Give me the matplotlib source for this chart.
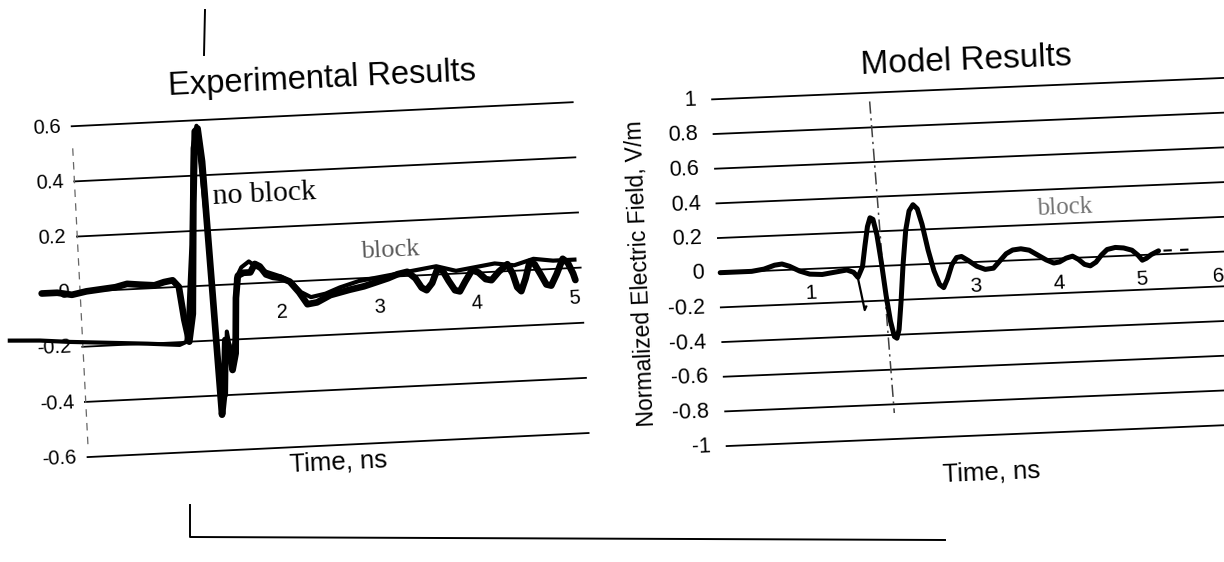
import matplotlib
matplotlib.use("Agg")
import matplotlib.pyplot as plt
from matplotlib.transforms import Affine2D
from matplotlib.lines import Line2D

# ---- data (values in the chart's own frame) ----
exp_t_noblock = [-0.46, -0.3, -0.15, 0.0, 0.15, 0.3, 0.42, 0.55, 0.7, 0.8, 0.89, 0.95, 0.99, 1.03,
                 1.08, 1.14, 1.19, 1.22, 1.25, 1.29, 1.33, 1.36, 1.40, 1.43, 1.46, 1.50, 1.53, 1.56,
                 1.62, 1.69, 1.74, 1.79, 1.85, 1.92, 2.0, 2.09, 2.18, 2.26, 2.36, 2.5, 2.7, 2.85,
                 2.98, 3.1, 3.2, 3.30, 3.38, 3.44, 3.49, 3.55, 3.61, 3.66, 3.72, 3.78, 3.83, 3.89,
                 3.965, 4.03, 4.1, 4.16, 4.24, 4.33, 4.38, 4.42, 4.46, 4.51, 4.56, 4.61, 4.67, 4.72,
                 4.77, 4.83, 4.90, 4.95, 5.0, 5.02]
exp_v_noblock = [0.0, 0.0, -0.01, 0.0, 0.005, 0.01, 0.02, 0.015, 0.01, 0.02, 0.025, 0.0, -0.12, -0.2,
                 -0.1, 0.3, 0.56, 0.57, 0.45, 0.0, -0.47, -0.4, -0.2, -0.22, -0.31, -0.25, -0.05, 0.03,
                 0.04, 0.04, 0.07, 0.06, 0.03, 0.02, 0.015, 0.0, -0.04, -0.085, -0.08, -0.056, -0.04, -0.03,
                 -0.017, -0.005, 0.008, 0.015, -0.01, -0.045, -0.055, -0.03, 0.02, 0.015, -0.025, -0.06,
                 -0.065, -0.03, 0.01, 0.0, -0.025, -0.03, 0.0, 0.025, -0.01, -0.06, -0.075, -0.03, 0.03,
                 0.02, -0.02, -0.055, -0.06, -0.02, 0.035, 0.02, -0.02, -0.044]

exp_t_block = [-0.81, -0.5, -0.2, 0.2, 0.6, 0.93, 1.0, 1.03, 1.06, 1.1, 1.16, 1.21, 1.27, 1.33, 1.38,
               1.42, 1.46, 1.5, 1.54, 1.6, 1.68, 1.75, 1.85, 2.0, 2.1, 2.2, 2.3, 2.45, 2.6, 2.8, 3.0,
               3.2, 3.4, 3.6, 3.8, 4.0, 4.2, 4.4, 4.6, 4.8, 5.02]
exp_v_block = [-0.165, -0.17, -0.18, -0.19, -0.2, -0.21, -0.2, -0.12, 0.0, 0.15, 0.5, 0.58, 0.2, -0.38,
               -0.4, -0.17, -0.27, -0.2, 0.02, 0.06, 0.08, 0.06, 0.04, 0.02, 0.0, -0.04, -0.06, -0.05,
               -0.03, -0.01, 0.0, 0.01, 0.02, 0.03, 0.01, 0.02, 0.03, 0.02, 0.04, 0.03, 0.03]

mod_t = [-0.08, 0.3, 0.45, 0.58, 0.67, 0.76, 0.88, 1.0, 1.15, 1.3, 1.45, 1.53, 1.58, 1.64, 1.68,
         1.72, 1.755, 1.79, 1.83, 1.87, 1.91, 1.95, 1.99, 2.02, 2.05, 2.09, 2.13, 2.18, 2.23, 2.28,
         2.33, 2.38, 2.44, 2.5, 2.56, 2.61, 2.66, 2.72, 2.78, 2.84, 2.92, 3.02, 3.12, 3.22, 3.3,
         3.38, 3.46, 3.56, 3.66, 3.76, 3.86, 3.95, 4.02, 4.1, 4.18, 4.25, 4.32, 4.39, 4.46, 4.53,
         4.6, 4.7, 4.8, 4.9, 4.97, 5.02, 5.07, 5.13, 5.22]
mod_v = [0.0, 0.0, 0.01, 0.03, 0.035, 0.02, -0.01, -0.03, -0.035, -0.025, -0.015, -0.03, -0.06, 0.0,
         0.12, 0.23, 0.28, 0.27, 0.18, 0.02, -0.17, -0.32, -0.41, -0.42, -0.37, -0.2, 0.0, 0.2, 0.31,
         0.345, 0.32, 0.23, 0.08, -0.04, -0.12, -0.14, -0.09, -0.01, 0.03, 0.035, 0.01, -0.025, -0.045,
         -0.04, 0.0, 0.04, 0.06, 0.065, 0.055, 0.025, -0.005, -0.025, -0.02, 0.0, 0.01, -0.01, -0.04,
         -0.05, -0.03, 0.01, 0.04, 0.05, 0.045, 0.03, 0.0, -0.03, -0.02, 0.0, 0.02]
mod_t_dip = [1.5, 1.57, 1.61, 1.645, 1.665]
mod_v_dip = [-0.02, -0.04, -0.15, -0.25, -0.23]
mod_t_tail = [5.28, 5.6]
mod_v_tail = [0.02, 0.02]
mod_t_marker = [1.81, 1.95]
mod_v_marker = [0.95, -0.85]

exp_yticks = [0.6, 0.4, 0.2, 0, -0.2, -0.4, -0.6]
exp_ytick_labels = ["0.6", "0.4", "0.2", "0", "-0.2", "-0.4", "-0.6"]
exp_xticks = [2, 3, 4, 5]
mod_yticks = [1, 0.8, 0.6, 0.4, 0.2, 0, -0.2, -0.4, -0.6, -0.8, -1]
mod_ytick_labels = ["1", "0.8", "0.6", "0.4", "0.2", "0", "-0.2", "-0.4", "-0.6", "-0.8", "-1"]
mod_xticks = [1, 3, 4, 5, 6]
mod_xtick_pos = [1, 3, 4, 5, 5.93]   # the "6" sits at the scan's right edge

W, H = 1224, 562
SANS = "Liberation Sans"
SERIF = "Liberation Serif"

fig = plt.figure(figsize=(W / 100, H / 100), dpi=100)


def make_axes(cpx, cpy, x0, xlim, ylim, sx, sy, tilt):
    # (x0, 0) in data sits at image pixel (cpx, cpy); the scan is tilted by `tilt` degrees
    left = cpx - (x0 - xlim[0]) * sx
    bottom = (H - cpy) - (0 - ylim[0]) * sy
    ax = fig.add_axes([left / W, bottom / H, (xlim[1] - xlim[0]) * sx / W,
                       (ylim[1] - ylim[0]) * sy / H])
    ax.set_xlim(xlim)
    ax.set_ylim(ylim)
    ax.axis("off")
    tr = ax.transData + Affine2D().rotate_deg_around(cpx, H - cpy, tilt)
    return ax, tr


# ---------------- left: experimental ----------------
tilt_l = 2.75
ax1, tr1 = make_axes(281, 282, 2, (-0.85, 5.2), (-0.7, 0.7), 97.4, 276, tilt_l)
for y in exp_yticks:
    ax1.plot([-0.07, 5.08], [y, y], color="black", lw=1.3, transform=tr1, clip_on=False)
for y, lab in zip(exp_yticks, exp_ytick_labels):
    ax1.text(-0.18, y, lab, ha="right", va="center", fontsize=14.5, family=SANS,
             transform=tr1, rotation=tilt_l, rotation_mode="anchor")
for x in exp_xticks:
    ax1.text(x, -0.11, str(x), ha="center", va="center", fontsize=14.5, family=SANS,
             transform=tr1, rotation=tilt_l, rotation_mode="anchor")
ax1.plot([-0.07, -0.06], [0.52, -0.56], color="0.4", lw=0.9, ls=(0, (6, 5)),
         transform=tr1, clip_on=False)
ax1.plot(exp_t_block, exp_v_block, color="black", lw=3.0, solid_joinstyle="round",
         transform=tr1, clip_on=False)
ax1.plot(exp_t_noblock, exp_v_noblock, color="black", lw=4.8, solid_joinstyle="round",
         solid_capstyle="round", transform=tr1, clip_on=False)
ax1.text(1.345, 0.32, "no block", ha="left", va="center", fontsize=21.5, family=SERIF,
         transform=tr1, rotation=tilt_l, rotation_mode="anchor")
ax1.text(3.13, 0.095, "block", ha="center", va="center", fontsize=19, family=SERIF,
         color="0.35", transform=tr1, rotation=tilt_l, rotation_mode="anchor")

# ---------------- right: model ----------------
tilt_r = 2.4
ax2, tr2 = make_axes(975, 262, 3, (-0.4, 6.4), (-1.2, 1.2), 82.8, 173.5, tilt_r)
for y in mod_yticks:
    ax2.plot([-0.09, 6.5], [y, y], color="black", lw=1.3, transform=tr2, clip_on=False)
for y, lab in zip(mod_yticks, mod_ytick_labels):
    ax2.text(-0.28, y, lab, ha="right", va="center", fontsize=15.5, family=SANS,
             transform=tr2, rotation=tilt_r, rotation_mode="anchor")
for x, lab in zip(mod_xtick_pos, mod_xticks):
    ax2.text(x, -0.14, str(lab), ha="center", va="center", fontsize=15, family=SANS,
             transform=tr2, rotation=tilt_r, rotation_mode="anchor")
ax2.plot(mod_t_marker, mod_v_marker, color="0.25", lw=1.1, ls=(0, (8, 3, 1.5, 3)),
         transform=tr2, clip_on=False)
ax2.plot(mod_t_dip, mod_v_dip, color="black", lw=1.6, transform=tr2, clip_on=False)
ax2.plot(mod_t, mod_v, color="black", lw=3.6, solid_joinstyle="round",
         solid_capstyle="round", transform=tr2, clip_on=False)
ax2.plot(mod_t_tail, mod_v_tail, color="black", lw=1.5, ls=(0, (4, 4)),
         transform=tr2, clip_on=False)
ax2.text(4.11, 0.29, "block", ha="center", va="center", fontsize=18, family=SERIF,
         color="0.45", transform=tr2, rotation=tilt_r, rotation_mode="anchor")

# ---------------- titles / axis labels (figure pixels) ----------------
def ftext(px, py, s, **kw):
    fig.text(px / W, 1 - py / H, s, family=SANS, rotation_mode="anchor", **kw)

ftext(322, 88, "Experimental Results", ha="center", va="baseline", fontsize=23.5, rotation=tilt_l)
ftext(967, 70, "Model Results", ha="center", va="baseline", fontsize=24, rotation=tilt_r)
ftext(338, 462, "Time, ns", ha="center", va="center", fontsize=18.5, rotation=tilt_l)
ftext(991, 472, "Time, ns", ha="center", va="center", fontsize=18.5, rotation=tilt_r)
ftext(641, 273, "Normalized Electric Field, V/m", ha="center", va="center", fontsize=16.5,
      rotation=90 + tilt_r)

# scanner frame marks
fig.add_artist(Line2D([205 / W, 204 / W], [1 - 10 / H, 1 - 55 / H], color="black", lw=1.4))
fig.add_artist(Line2D([190 / W, 190 / W, 945 / W], [1 - 505 / H, 1 - 537 / H, 1 - 540 / H],
                      color="black", lw=1.4))

fig.savefig("out.png", dpi=100, facecolor="white")
